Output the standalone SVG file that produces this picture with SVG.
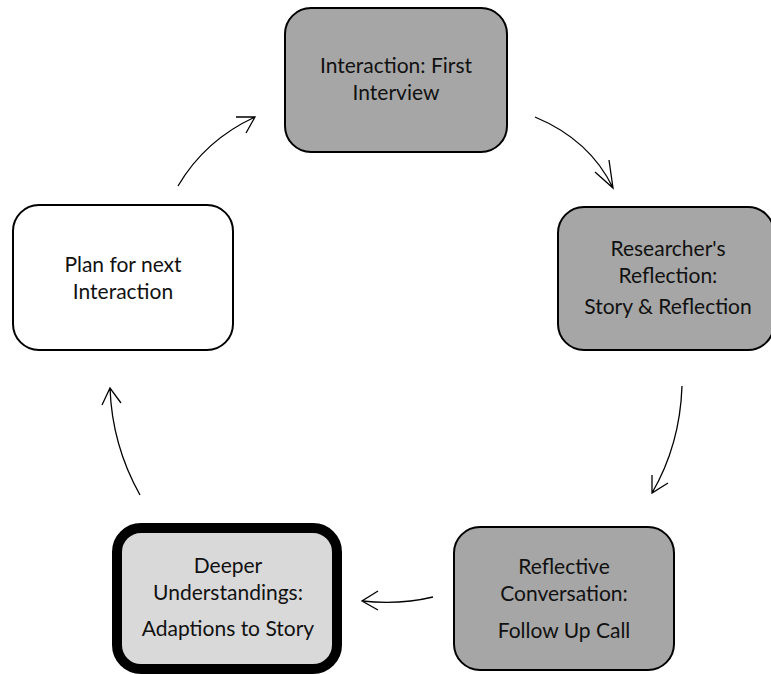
<svg xmlns="http://www.w3.org/2000/svg" width="771" height="674" viewBox="0 0 771 674">
<style>
.box{stroke:#000;stroke-width:2}
.dark{fill:#a6a6a6}
.light{fill:#d9d9d9}
.white{fill:#fff}
.t{font-family:Lato,"Open Sans",sans-serif;font-size:21px;fill:#111;text-anchor:middle}
.c{fill:none;stroke:#000;stroke-width:1.3}
</style>
<rect width="771" height="674" fill="#fff"/>
<g id="connectors">
<path class="c" d="M178,186 Q205,140 255,117 M236,117 L255,117 L246,133"/>
<path class="c" d="M535,117 Q590,140 613,188 M595,172 L613,188 L609,160"/>
<path class="c" d="M682,386 Q680,445 652,493 M652,475 L652,493 L668,483"/>
<path class="c" d="M433,597 Q400,605 362,601 M378,591 L362,601 L378,610"/>
<path class="c" d="M140,495 Q112,445 110,388 M102,405 L110,388 L121,403"/>
</g>
<g id="n1">
<rect class="box dark" x="285" y="8" width="222" height="144" rx="26"/>
<text class="t" x="396" y="73">Interaction: First</text>
<text class="t" x="396" y="100">Interview</text>
</g>
<g id="n2">
<rect class="box dark" x="558" y="207" width="216" height="143" rx="26"/>
<text class="t" x="668" y="256">Researcher's</text>
<text class="t" x="668" y="283">Reflection:</text>
<text class="t" x="668" y="314">Story &amp; Reflection</text>
</g>
<g id="n3">
<rect class="box dark" x="454" y="527" width="220" height="143" rx="26"/>
<text class="t" x="564" y="574">Reflective</text>
<text class="t" x="564" y="601">Conversation:</text>
<text class="t" x="564" y="638">Follow Up Call</text>
</g>
<g id="n4">
<rect class="light" x="117" y="528" width="220" height="141" rx="24" stroke="#000" stroke-width="10"/>
<text class="t" x="228" y="573">Deeper</text>
<text class="t" x="228" y="600">Understandings:</text>
<text class="t" x="228" y="636">Adaptions to Story</text>
</g>
<g id="n5">
<rect class="box white" x="13" y="205" width="220" height="145" rx="26"/>
<text class="t" x="123" y="272">Plan for next</text>
<text class="t" x="123" y="299">Interaction</text>
</g>
</svg>
